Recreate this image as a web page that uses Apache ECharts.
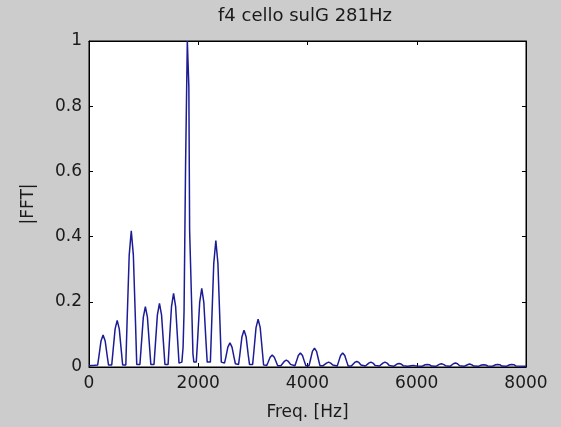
<!DOCTYPE html>
<html>
<head>
<meta charset="utf-8">
<script src="https://cdn.jsdelivr.net/npm/echarts@6/dist/echarts.min.js"></script>
<style>
html,body{margin:0;padding:0;background:#cccccc;}
#chart{width:561px;height:427px;}
</style>
</head>
<body>
<div id="chart"></div>
<script>
// Spectrum samples (frequency in Hz, normalised |FFT|)
var freqHz = [
  0, 100,
  158, 181, 220, 258, 296, 335, 358,
  416, 439, 478, 516, 554, 593, 616,
  674, 697, 736, 774, 812, 851, 874,
  932, 955, 994, 1032, 1070, 1109, 1132,
  1190, 1213, 1252, 1290, 1328, 1367, 1390,
  1448, 1471, 1510, 1548, 1586, 1625, 1648,
  1700, 1722, 1740, 1768, 1800, 1828, 1842, 1878, 1903, 1920,
  1964, 1987, 2026, 2064, 2102, 2141, 2164,
  2222, 2245, 2284, 2322, 2360, 2399, 2422,
  2480, 2503, 2542, 2580, 2618, 2657, 2680,
  2738, 2761, 2800, 2838, 2876, 2915, 2938,
  2996, 3019, 3058, 3096, 3134, 3173, 3196,
  3254, 3277, 3316, 3354, 3392, 3431, 3454,
  3512, 3535, 3574, 3612, 3650, 3689, 3712,
  3770, 3793, 3832, 3870, 3908, 3947, 3970,
  4028, 4051, 4090, 4128, 4166, 4205, 4228,
  4286, 4309, 4348, 4386, 4424, 4463, 4486,
  4544, 4567, 4606, 4644, 4682, 4721, 4744,
  4802, 4825, 4864, 4902, 4940, 4979, 5002,
  5060, 5083, 5122, 5160, 5198, 5237, 5260,
  5318, 5341, 5380, 5418, 5456, 5495, 5518,
  5576, 5599, 5638, 5676, 5714, 5753, 5776,
  5834, 5857, 5896, 5934, 5972, 6011, 6034,
  6092, 6115, 6154, 6192, 6230, 6269, 6292,
  6350, 6373, 6412, 6450, 6488, 6527, 6550,
  6608, 6631, 6670, 6708, 6746, 6785, 6808,
  6866, 6889, 6928, 6966, 7004, 7043, 7066,
  7124, 7147, 7186, 7224, 7262, 7301, 7324,
  7382, 7405, 7444, 7482, 7520, 7559, 7582,
  7640, 7663, 7702, 7740, 7778, 7817, 7840,
  8000
];
var fftMag = [
  0.004, 0.005,
  0.006, 0.032, 0.080, 0.098, 0.080, 0.032, 0.006,
  0.006, 0.047, 0.117, 0.143, 0.117, 0.047, 0.006,
  0.006, 0.138, 0.343, 0.418, 0.343, 0.138, 0.008,
  0.008, 0.061, 0.152, 0.185, 0.152, 0.061, 0.008,
  0.008, 0.064, 0.160, 0.195, 0.160, 0.064, 0.008,
  0.008, 0.075, 0.185, 0.226, 0.185, 0.075, 0.012,
  0.015, 0.060, 0.170, 0.620, 1.000, 0.860, 0.420, 0.200, 0.040, 0.015,
  0.015, 0.080, 0.198, 0.241, 0.198, 0.080, 0.015,
  0.015, 0.128, 0.318, 0.388, 0.318, 0.128, 0.015,
  0.012, 0.028, 0.061, 0.074, 0.061, 0.028, 0.010,
  0.008, 0.037, 0.093, 0.113, 0.093, 0.037, 0.008,
  0.008, 0.049, 0.121, 0.147, 0.121, 0.049, 0.006,
  0.005, 0.014, 0.030, 0.037, 0.030, 0.014, 0.004,
  0.004, 0.008, 0.017, 0.021, 0.017, 0.008, 0.004,
  0.004, 0.015, 0.035, 0.043, 0.035, 0.015, 0.004,
  0.004, 0.020, 0.048, 0.058, 0.048, 0.020, 0.004,
  0.004, 0.006, 0.012, 0.015, 0.012, 0.006, 0.003,
  0.003, 0.015, 0.035, 0.043, 0.035, 0.015, 0.003,
  0.003, 0.006, 0.014, 0.017, 0.014, 0.006, 0.003,
  0.003, 0.005, 0.012, 0.015, 0.012, 0.005, 0.003,
  0.003, 0.005, 0.012, 0.015, 0.012, 0.005, 0.002,
  0.002, 0.004, 0.009, 0.011, 0.009, 0.004, 0.002,
  0.002, 0.003, 0.004, 0.005, 0.004, 0.003, 0.002,
  0.002, 0.003, 0.007, 0.008, 0.007, 0.003, 0.002,
  0.002, 0.004, 0.008, 0.010, 0.008, 0.004, 0.002,
  0.002, 0.004, 0.010, 0.012, 0.010, 0.004, 0.002,
  0.002, 0.003, 0.007, 0.009, 0.007, 0.003, 0.002,
  0.002, 0.003, 0.006, 0.007, 0.006, 0.003, 0.002,
  0.002, 0.003, 0.007, 0.008, 0.007, 0.003, 0.002,
  0.002, 0.003, 0.007, 0.008, 0.007, 0.003, 0.002,
  0.002
];
var xTicks = [0, 2000, 4000, 6000, 8000];
var yTicks = [0, 0.2, 0.4, 0.6, 0.8, 1];
var titleText = 'f4 cello sulG 281Hz';
var xName = 'Freq. [Hz]';
var yName = '|FFT|';

var seriesData = freqHz.map(function (f, i) { return [f, fftMag[i]]; });

var FONT = 'DejaVu Sans';
var TXT = '#1a1a1a';
var chart = echarts.init(document.getElementById('chart'), null, {renderer: 'canvas'});

function tickAxisCommon() {
  return {
    axisLine: {show: true, onZero: false, lineStyle: {color: '#000', width: 1}},
    axisTick: {show: true, inside: true, length: 4, lineStyle: {color: '#000'}},
    splitLine: {show: false}
  };
}

var xBottom = Object.assign(tickAxisCommon(), {
  type: 'value', position: 'bottom', min: xTicks[0], max: xTicks[xTicks.length - 1], interval: 2000,
  name: xName, nameLocation: 'middle', nameGap: 37,
  nameTextStyle: {fontFamily: FONT, fontSize: 17, color: TXT},
  axisLabel: {fontFamily: FONT, fontSize: 17, color: TXT, margin: 8,
    formatter: function (v) { return String(v); }}
});
var xTop = Object.assign(tickAxisCommon(), {
  type: 'value', position: 'top', min: xTicks[0], max: xTicks[xTicks.length - 1], interval: 2000,
  axisLabel: {show: false}
});
var yLeft = Object.assign(tickAxisCommon(), {
  type: 'value', position: 'left', min: yTicks[0], max: yTicks[yTicks.length - 1], interval: 0.2,
  name: yName, nameLocation: 'middle', nameGap: 52, nameRotate: 90,
  nameTextStyle: {fontFamily: FONT, fontSize: 17, color: TXT},
  axisLabel: {fontFamily: FONT, fontSize: 17, color: TXT, margin: 7,
    formatter: function (v) { return String(Math.round(v * 10) / 10); }}
});
var yRight = Object.assign(tickAxisCommon(), {
  type: 'value', position: 'right', min: yTicks[0], max: yTicks[yTicks.length - 1], interval: 0.2,
  axisLabel: {show: false}
});

chart.setOption({
  backgroundColor: '#cccccc',
  animation: false,
  title: {
    text: titleText, left: 305, top: 7, textAlign: 'center', padding: 0,
    textStyle: {fontFamily: FONT, fontSize: 18, fontWeight: 'normal', color: TXT}
  },
  grid: {left: 89, right: 35, top: 41, bottom: 60, show: true, backgroundColor: '#ffffff', borderColor: '#000', borderWidth: 1},
  xAxis: [xBottom, xTop],
  yAxis: [yLeft, yRight],
  series: [{
    type: 'line', xAxisIndex: 0, yAxisIndex: 0, data: seriesData,
    showSymbol: false, symbol: 'none', clip: true,
    lineStyle: {color: '#1c1c96', width: 1.5}
  }]
});
</script>
</body>
</html>
